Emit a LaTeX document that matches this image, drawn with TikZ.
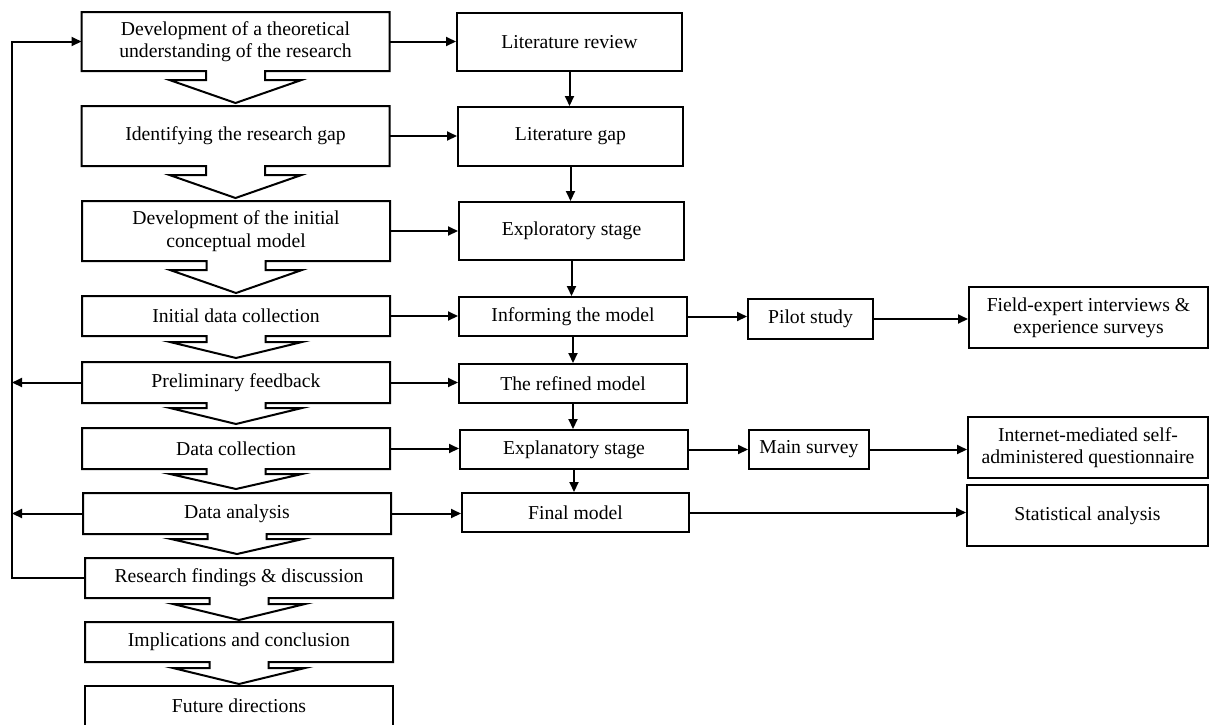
\documentclass[tikz,border=0pt]{standalone}
\usepackage{fontspec}
\setmainfont{Liberation Serif}
\usetikzlibrary{calc,arrows.meta}

% Outline of a stage box with the downward chevron below it:
% #1 node name, #2 depth of the shaft tabs, #3 depth of the tip
\newcommand\stageoutline[3]{%
  \draw[line join=miter]
    ($(#1.south)+(-29.5,0)$) -- (#1.south west) -- (#1.north west)
    -- (#1.north east) -- (#1.south east) -- ($(#1.south)+(29.5,0)$)
    -- ++(0,#2) -- ++(36.5,0) -- ($(#1.south)+(0,#3)$)
    -- ($(#1.south)+(-66,#2)$) -- ++(36.5,0) -- cycle;}

\begin{document}
\begin{tikzpicture}[x=1pt,y=-1pt,line width=2pt,
  txt/.style={inner sep=0pt,align=center,font=\fontsize{19.7}{22.4}\selectfont},
  box/.style={txt,draw,rectangle},
  stage/.style={txt,rectangle,minimum width=306pt},
  arr/.style={-{Triangle[length=10pt,width=9pt]}}]

\useasboundingbox (0,0) rectangle (1210,724);

% left column: research stages
\node[stage,minimum height=57pt] (L1) at (235.5,41.5) {Development of a theoretical\\understanding of the research};
\node[stage,minimum height=58pt] (L2) at (235.5,136) {Identifying the research gap};
\node[stage,minimum height=58pt] (L3) at (236,231) {Development of the initial\\conceptual model};
\node[stage,minimum height=38pt] (L4) at (236,316) {Initial data collection};
\node[stage,minimum height=39pt] (L5) at (236,382.5) {Preliminary feedback};
\node[stage,minimum height=39pt] (L6) at (236,448.5) {Data collection};
\node[stage,minimum height=39pt] (L7) at (237,513.5) {Data analysis};
\node[stage,minimum height=38pt] (L8) at (239,578) {Research findings \& discussion};
\node[stage,minimum height=38pt] (L9) at (239,642) {Implications and conclusion};
\node[stage,minimum height=38pt] (L10) at (239,706) {Future directions};

\stageoutline{L1}{9}{32}
\stageoutline{L2}{9}{32}
\stageoutline{L3}{9}{32}
\stageoutline{L4}{6}{22}
\stageoutline{L5}{5}{21}
\stageoutline{L6}{5}{20}
\stageoutline{L7}{5}{20}
\stageoutline{L8}{6}{22}
\stageoutline{L9}{6}{22}
\draw (L10.south west) -- (L10.north west) -- (L10.north east) -- (L10.south east);

% middle column: model development
\node[box,minimum width=225pt,minimum height=58pt] (M1) at (569.5,42) {Literature review};
\node[box,minimum width=225pt,minimum height=59pt] (M2) at (570.5,136.5) {Literature gap};
\node[box,minimum width=225pt,minimum height=58pt] (M3) at (571.5,231) {Exploratory stage};
\node[box,minimum width=228pt,minimum height=39pt] (M4) at (573,316.5) {Informing the model};
\node[box,minimum width=228pt,minimum height=39pt] (M5) at (573,383.5) {The refined model};
\node[box,minimum width=228pt,minimum height=39pt] (M6) at (574,449.5) {Explanatory stage};
\node[box,minimum width=227pt,minimum height=39pt] (M7) at (575.5,512.5) {Final model};

% right side: methods
\node[box,minimum width=125pt,minimum height=40pt] (P) at (810.5,319) {Pilot study};
\node[box,minimum width=239pt,minimum height=61pt] (F) at (1088.5,317.5) {Field-expert interviews \&\\experience surveys};
\node[box,minimum width=120pt,minimum height=39pt] (S) at (809,449.5) {Main survey};
\node[box,minimum width=240pt,minimum height=61pt] (I) at (1088,447.5) {Internet-mediated self-\\administered questionnaire};
\node[box,minimum width=241pt,minimum height=61pt] (T) at (1087.5,515.5) {Statistical analysis};

% stage to model links
\foreach \a/\b in {L1/M1,L2/M2,L3/M3,L4/M4,L5/M5,L6/M6,L7/M7}
  \draw[arr] (\a.east) -- (\a.east -| \b.west);

% model sequence
\foreach \a/\b in {M1/M2,M2/M3,M3/M4,M4/M5,M5/M6,M6/M7}
  \draw[arr] (\a.south) -- (\a.south |- \b.north);

% methods
\draw[arr] (M4.east) -- (M4.east -| P.west);
\draw[arr] (P.east) -- (P.east -| F.west);
\draw[arr] (M6.east) -- (M6.east -| S.west);
\draw[arr] (S.east) -- (S.east -| I.west);
\draw[arr] (M7.east) -- (M7.east -| T.west);

% feedback loop
\coordinate (loop) at (12,0);
\draw[arr] (L8.west) -- (L8.west -| loop) -- (L1.west -| loop) -- (L1.west);
\draw[arr] (L5.west) -- (L5.west -| loop);
\draw[arr] (L7.west) -- (L7.west -| loop);

\end{tikzpicture}
\end{document}
